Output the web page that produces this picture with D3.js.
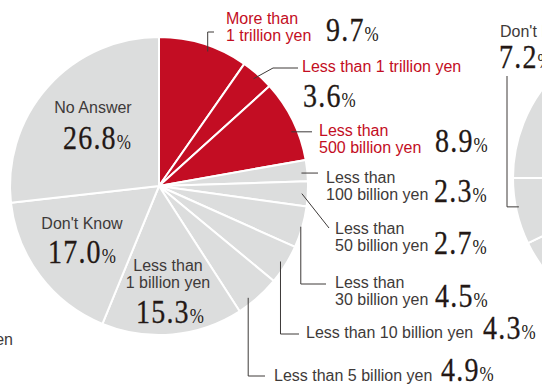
<!DOCTYPE html>
<html>
<head>
<meta charset="utf-8">
<script src="https://cdn.jsdelivr.net/npm/d3@7"></script>
<style>
  html, body { margin: 0; padding: 0; background: #fff; }
  svg { display: block; }
</style>
</head>
<body>
<svg id="chart" width="542" height="385"></svg>
<script>
// Survey answers, clockwise from 12 o'clock
const categories = [
  "More than 1 trillion yen",
  "Less than 1 trillion yen",
  "Less than 500 billion yen",
  "Less than 100 billion yen",
  "Less than 50 billion yen",
  "Less than 30 billion yen",
  "Less than 10 billion yen",
  "Less than 5 billion yen",
  "Less than 1 billion yen",
  "Don't Know",
  "No Answer"
];
const values = [9.7, 3.6, 8.9, 2.3, 2.7, 4.5, 4.3, 4.9, 15.3, 17.0, 26.8];
const highlighted = [true, true, true, false, false, false, false, false, false, false, false];

// Neighbouring pie (only its left edge falls inside the frame)
const sideCategories = ["Answered", "Don't Know", "No Answer"];
const sideValues = [67.8, 7.2, 25.0];

// Neighbouring pie on the left: tail of one label
const leftLabel = "Less than 5 billion yen";

// ---------- layout ----------
const RED = "#c30d23", GREY = "#dcdddd", INK = "#231815", TEXT = "#3e3a39";
const SANS = "'Liberation Sans', Arial, sans-serif";
const SERIF = "'Liberation Serif', 'Times New Roman', serif";

const main = { cx: 159, cy: 186, r: 149 };
const side = { cx: 662, cy: 178, r: 149 };

// label placement per category: text block anchor, number anchor, leader
const labelLayout = [
  { x: 226, y: 24, wrap: true, anchor: "start", px: 326, py: 41,
    leader: { t: 0.57, k: 0.96, pts: [["v", 32], ["h", 214]] } },
  { x: 302, y: 72, wrap: false, anchor: "start", px: 303, py: 107,
    leader: { t: 0.5, k: 0.96, pts: [["p", 273, 68], ["h", 298]] } },
  { x: 319, y: 136, wrap: true, anchor: "start", px: 435, py: 152,
    leader: { t: 0.62, k: 0.96, pts: [["h", 312]] } },
  { x: 326, y: 183, wrap: true, anchor: "start", px: 434, py: 202,
    leader: { t: 0.59, k: 0.96, pts: [["h", 318]] } },
  { x: 335, y: 234, wrap: true, anchor: "start", px: 434, py: 254,
    leader: { t: 0.5, k: 0.96, pts: [["p", 329, 228]] } },
  { x: 335, y: 288, wrap: true, anchor: "start", px: 435, py: 307,
    leader: { t: 0.5, k: 0.99, pts: [["v", 284], ["h", 326]] } },
  { x: 306, y: 338, wrap: false, anchor: "start", px: 483, py: 339,
    leader: { t: 0.5, k: 0.96, pts: [["v", 334], ["h", 299]] } },
  { x: 274, y: 381, wrap: false, anchor: "start", px: 441, py: 381,
    leader: { t: 0.67, k: 0.96, pts: [["v", 376], ["h", 265]] } },
  { x: 168, y: 271, wrap: true, anchor: "middle", px: 170, py: 323 },
  { x: 82, y: 229, wrap: false, anchor: "middle", px: 82, py: 263 },
  { x: 93, y: 113, wrap: false, anchor: "middle", px: 97, py: 149 }
];

const svg = d3.select("#chart");
svg.append("rect").attr("width", 542).attr("height", 385).attr("fill", "#fff");

const pie = d3.pie().sort(null).value(d => d);

function drawPie(cfg, vals, fills) {
  const arcs = pie(vals);
  const arc = d3.arc().innerRadius(0).outerRadius(cfg.r);
  svg.append("g")
    .attr("transform", `translate(${cfg.cx},${cfg.cy})`)
    .selectAll("path")
    .data(arcs)
    .join("path")
    .attr("d", arc)
    .attr("fill", (d, i) => fills[i])
    .attr("stroke", "#fff")
    .attr("stroke-width", 2)
    .attr("stroke-linejoin", "bevel");
  return arcs;
}

// point inside a slice: fraction t across its angle, fraction k of radius
function slicePoint(cfg, a, t, k) {
  const ang = a.startAngle + (a.endAngle - a.startAngle) * t;
  return [cfg.cx + Math.sin(ang) * cfg.r * k, cfg.cy - Math.cos(ang) * cfg.r * k];
}

function drawLeader(start, pts) {
  let cur = start.slice();
  const line = [cur.slice()];
  pts.forEach(p => {
    if (p[0] === "v") cur = [cur[0], p[1]];
    else if (p[0] === "h") cur = [p[1], cur[1]];
    else cur = [p[1], p[2]];
    line.push(cur.slice());
  });
  svg.append("path")
    .attr("d", d3.line()(line))
    .attr("fill", "none")
    .attr("stroke", TEXT)
    .attr("stroke-width", 1);
}

// big serif percentage with a small % sign
function drawPct(x, y, v, anchor) {
  const t = svg.append("text")
    .attr("transform", `translate(${x},${y}) scale(1,1.2)`)
    .attr("text-anchor", anchor)
    .attr("font-family", SERIF)
    .attr("fill", INK);
  t.append("tspan")
    .attr("font-size", 28)
    .attr("letter-spacing", 1.2)
    .attr("stroke", INK)
    .attr("stroke-width", 0.25)
    .text(v.toFixed(1));
  t.append("tspan").attr("font-size", 17).text("%");
}

function drawLabel(x, y, lines, anchor, color) {
  const t = svg.append("text")
    .attr("x", x).attr("y", y)
    .attr("text-anchor", anchor)
    .attr("font-family", SANS)
    .attr("font-size", 16)
    .attr("fill", color);
  lines.forEach((s, i) => {
    t.append("tspan").attr("x", x).attr("dy", i === 0 ? 0 : 16.5).text(s);
  });
}

function wrapLines(name, wrap) {
  if (!wrap) return [name];
  const w = name.split(" ");
  return [w.slice(0, 2).join(" "), w.slice(2).join(" ")];
}

// ---------- side pie (right) ----------
const sideArcs = drawPie(side, sideValues, sideValues.map(() => GREY));
drawLeader(slicePoint(side, sideArcs[1], 0.56, 0.98), [["h", 507], ["v", 76]]);
drawLabel(500, 37, [sideCategories[1]], "start", TEXT);
drawPct(499, 68, sideValues[1], "start");

// ---------- main pie ----------
const mainArcs = drawPie(main, values, highlighted.map(h => h ? RED : GREY));

categories.forEach((name, i) => {
  const L = labelLayout[i];
  const color = highlighted[i] ? RED : TEXT;
  if (L.leader) drawLeader(slicePoint(main, mainArcs[i], L.leader.t, L.leader.k), L.leader.pts);
  drawLabel(L.x, L.y, wrapLines(name, L.wrap), L.anchor, color);
  drawPct(L.px, L.py, values[i], L.anchor);
});

// ---------- left neighbour label tail ----------
drawLabel(13, 345, [leftLabel], "end", TEXT);
</script>
</body>
</html>
